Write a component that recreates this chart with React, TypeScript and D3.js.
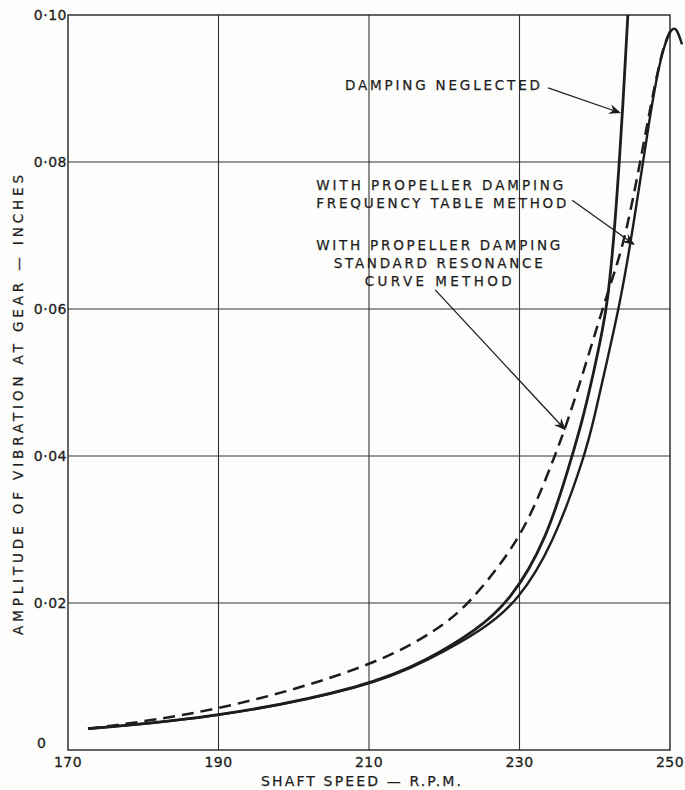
import React from "react";
import * as d3 from "d3";

// shaft speed (r.p.m.) and amplitude (inches)
const rpmTicks = [170, 190, 210, 230, 250];
const rpmGrid = [190, 210, 230];
const ampTicks = [0, 0.02, 0.04, 0.06, 0.08, 0.1];
const ampTickLabels = ["0", "0·02", "0·04", "0·06", "0·08", "0·10"];
const ampGrid = [0.02, 0.04, 0.06, 0.08];

const neglectedRpm = [172.66, 189.93, 210.13, 217.7, 224.3, 228.7, 233.6, 237.0, 238.4, 240.0, 241.0, 241.7, 242.5, 243.2, 243.7, 244.4];
const neglectedAmp = [0.0029, 0.0044, 0.0087, 0.0122, 0.0163, 0.0202, 0.0285, 0.04, 0.045, 0.052, 0.057, 0.061, 0.069, 0.079, 0.087, 0.1];

const freqRpm = [172.66, 189.93, 210.13, 217.7, 225.4, 229.8, 234.4, 238.7, 240.0, 241.6, 243.3, 244.8, 246.3, 247.3, 248.2, 249.0, 249.7, 250.4, 251.0, 251.6];
const freqAmp = [0.0029, 0.0044, 0.0086, 0.0121, 0.0165, 0.0203, 0.0278, 0.04, 0.0455, 0.0528, 0.0605, 0.0692, 0.0792, 0.086, 0.0913, 0.095, 0.0971, 0.0984, 0.0979, 0.096];

const standardRpm = [172.66, 189.93, 210.13, 219.17, 223.42, 229.0, 232.0, 234.7, 236.5, 238.5, 240.3, 241.8, 243.6, 245.0, 246.4, 247.5, 248.5, 249.3, 250.1];
const standardAmp = [0.0029, 0.0052, 0.0112, 0.0163, 0.02, 0.0272, 0.033, 0.04, 0.045, 0.0515, 0.0575, 0.0625, 0.068, 0.0745, 0.082, 0.088, 0.093, 0.0962, 0.098];

// annotation text, where it sits (rpm, amp) and where its arrow points
const noteText = [
  ["DAMPING NEGLECTED"],
  ["WITH PROPELLER DAMPING", "FREQUENCY TABLE METHOD"],
  ["WITH PROPELLER DAMPING", "STANDARD RESONANCE", "CURVE METHOD"],
];
const noteAt = [[206.8, 0.0905], [203.0, 0.0769], [219.2, 0.0687]];
const arrowFrom = [[233.8, 0.0901], [237.0, 0.0748], [218.8, 0.0626]];
const arrowTo = [[243.35, 0.0867], [245.2, 0.0688], [236.05, 0.0436]];

const zip = (a: number[], b: number[]) => a.map((v, i) => [v, b[i]] as [number, number]);

const ink = "#1d1d1d";
const font = "'DejaVu Sans', sans-serif";

export default function App() {
  const x = d3.scaleLinear().domain([170, 250]).range([68, 670]);
  const y = d3.scaleLinear().domain([0, 0.1]).range([750, 15]);

  // a drawn French-curve look: smooth through the read points
  const line = d3
    .line<[number, number]>()
    .x((d) => x(d[0]))
    .y((d) => y(d[1]))
    .curve(d3.curveBasis);

  // widths of the hand lettering, so the words spread like the plate
  const noteWidths = [[195], [247, 250], [244, 209, 147]];
  const noteAnchor = ["start", "start", "middle"];

  return (
    <svg
      width={685}
      height={790}
      style={{ position: "absolute", left: 0, top: 0, background: "#fdfdfb" }}
      fontFamily={font}
    >
      <defs>
        <marker id="head" viewBox="0 0 12 10" refX={11} refY={5} markerWidth={12} markerHeight={10} markerUnits="userSpaceOnUse" orient="auto">
          <path d="M0,0 L12,5 L0,10 L4,5 Z" fill={ink} />
        </marker>
      </defs>

      {/* grid */}
      {rpmGrid.map((r) => (
        <line key={"v" + r} x1={x(r)} x2={x(r)} y1={y(0)} y2={y(0.1)} stroke="#333" strokeWidth={1.1} />
      ))}
      {ampGrid.map((a) => (
        <line key={"h" + a} x1={x(170)} x2={x(250)} y1={y(a)} y2={y(a)} stroke="#333" strokeWidth={1.1} />
      ))}
      <rect x={x(170)} y={y(0.1)} width={x(250) - x(170)} height={y(0) - y(0.1)} fill="none" stroke="#222" strokeWidth={1.4} />

      {/* tick labels; the lone 0 sits where the other labels start */}
      {ampTicks.map((a, i) => (
        <text
          key={"yt" + a}
          x={a === 0 ? 37 : x(170) - 1}
          y={y(a) + (a === 0 ? -2 : 5)}
          textAnchor={a === 0 ? "start" : "end"}
          fontSize={14}
          fill={ink}
          stroke={ink}
          strokeWidth={0.3}
          letterSpacing={0.5}
        >
          {ampTickLabels[i]}
        </text>
      ))}
      {rpmTicks.map((r) => (
        <text key={"xt" + r} x={x(r)} y={767} textAnchor="middle" fontSize={14} fill={ink} stroke={ink} strokeWidth={0.3} letterSpacing={0.5}>
          {r}
        </text>
      ))}

      <text x={361} y={786} textAnchor="middle" fontSize={14} fill={ink} stroke={ink} strokeWidth={0.25} textLength={200} lengthAdjust="spacing">
        SHAFT SPEED — R.P.M.
      </text>
      <text
        transform="translate(23,405) rotate(-90)"
        textAnchor="middle"
        fontSize={13.5}
        fill={ink}
        stroke={ink}
        strokeWidth={0.25}
        textLength={460}
        lengthAdjust="spacing"
      >
        AMPLITUDE OF VIBRATION AT GEAR — INCHES
      </text>

      {/* curves */}
      <path d={line(zip(standardRpm, standardAmp)) || ""} fill="none" stroke={ink} strokeWidth={2.5} strokeDasharray="12 7" />
      <path d={line(zip(freqRpm, freqAmp)) || ""} fill="none" stroke={ink} strokeWidth={2.4} />
      <path d={line(zip(neglectedRpm, neglectedAmp)) || ""} fill="none" stroke={ink} strokeWidth={2.8} />

      {/* annotations */}
      {noteText.map((lines, i) => (
        <g key={"n" + i}>
          {lines.map((t, j) => (
            <text
              key={j}
              x={x(noteAt[i][0])}
              y={y(noteAt[i][1]) + 5 + j * 18}
              textAnchor={noteAnchor[i]}
              fontSize={13.5}
              fill={ink}
              stroke={ink}
              strokeWidth={0.25}
              textLength={noteWidths[i][j]}
              lengthAdjust="spacing"
            >
              {t}
            </text>
          ))}
          <line
            x1={x(arrowFrom[i][0])}
            y1={y(arrowFrom[i][1])}
            x2={x(arrowTo[i][0])}
            y2={y(arrowTo[i][1])}
            stroke={ink}
            strokeWidth={1.3}
            markerEnd="url(#head)"
          />
        </g>
      ))}
    </svg>
  );
}
